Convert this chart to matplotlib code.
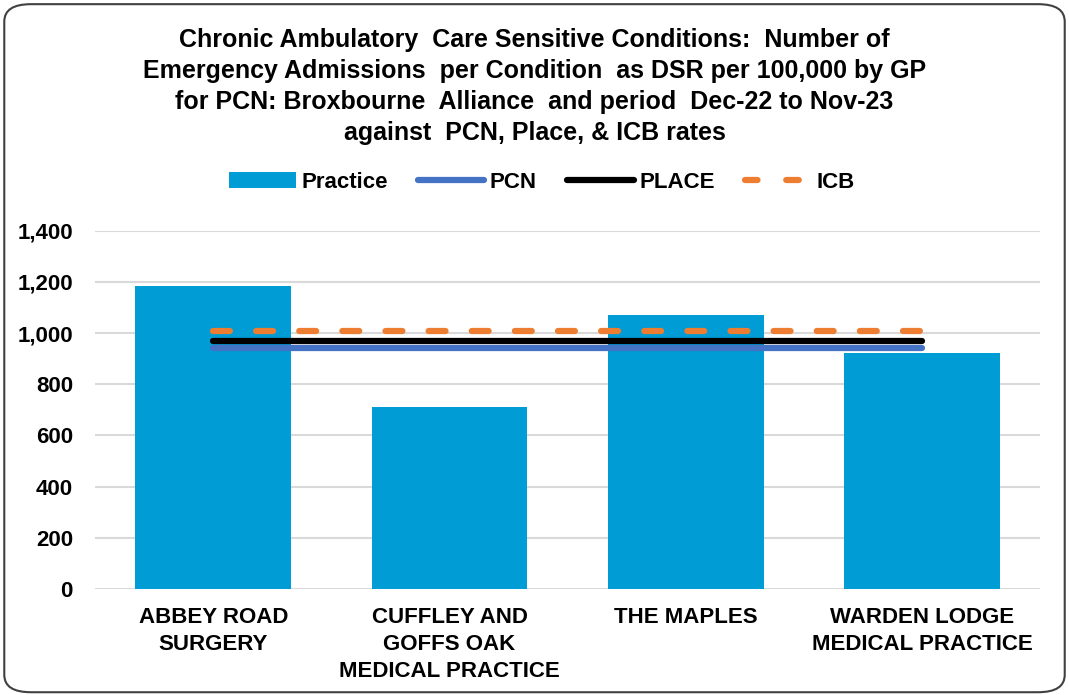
import numpy as np
import matplotlib.pyplot as plt
from matplotlib.patches import FancyBboxPatch
from matplotlib.lines import Line2D
from matplotlib.ticker import FuncFormatter

# datos
practicas = ['ABBEY ROAD\nSURGERY', 'CUFFLEY AND\nGOFFS OAK\nMEDICAL PRACTICE',
             'THE MAPLES', 'WARDEN LODGE\nMEDICAL PRACTICE']
practice = [1183, 712, 1070, 924]
pcn = [941, 941, 941, 941]
place = [969, 969, 969, 969]
icb = [1010, 1010, 1010, 1010]

plt.rcParams['font.family'] = ['Liberation Sans', 'DejaVu Sans']
plt.rcParams['font.weight'] = 'bold'

fig = plt.figure(figsize=(10.69, 6.95), dpi=100)
ax = fig.add_axes([0.089, 0.1525, 0.884, 0.5155])

x = np.arange(len(practicas))
b = ax.bar(x, practice, width=0.66, color='#009CD6', label='Practice', zorder=2)
l1, = ax.plot(x, pcn, color='#4472C4', lw=4.5, solid_capstyle='round', label='PCN', zorder=3)
l2, = ax.plot(x, place, color='black', lw=4.5, solid_capstyle='round', label='PLACE', zorder=3)
l3, = ax.plot(x, icb, color='#ED7D31', lw=4.5, dashes=(2.7, 4.2), dash_capstyle='round',
              label='ICB', zorder=4)
# muestra de leyenda para ICB con dos trazos
l3_ley = Line2D([], [], color='#ED7D31', lw=4.5, dashes=(2.0, 4.6), dash_capstyle='round')

ax.set_xlim(-0.5, 3.5)
ax.set_ylim(0, 1400)
ax.set_yticks(np.arange(0, 1401, 200))
ax.yaxis.set_major_formatter(FuncFormatter(lambda v, p: f'{int(v):,}'))
ax.set_xticks(x)
ax.set_xticklabels(practicas, fontsize=16, fontweight='bold', linespacing=1.36)
ax.tick_params(axis='y', labelsize=16, length=0, pad=16)
ax.tick_params(axis='x', length=0, pad=13)
ax.grid(axis='y', color='#D9D9D9', lw=1.5, zorder=0)
for s in ax.spines.values():
    s.set_visible(False)

fig.text(0.5, 0.876, 'Chronic Ambulatory  Care Sensitive Conditions:  Number of\n'
         'Emergency Admissions  per Condition  as DSR per 100,000 by GP\n'
         'for PCN: Broxbourne  Alliance  and period  Dec-22 to Nov-23\n'
         'against  PCN, Place, & ICB rates',
         ha='center', va='center', fontsize=18, fontweight='bold', linespacing=1.37)

fig.legend([b, l1, l2, l3_ley], ['Practice', 'PCN', 'PLACE', 'ICB'],
           loc='center', bbox_to_anchor=(0.507, 0.738), ncol=4, frameon=False,
           fontsize=16, handlelength=3.0, columnspacing=1.35, handletextpad=0.25)

borde = FancyBboxPatch((0.004, 0.004), 0.992, 0.99, boxstyle='round,pad=0,rounding_size=0.025',
                       transform=fig.transFigure, fill=False, edgecolor='#404040', lw=1.5)
fig.patches.append(borde)

fig.savefig('out.png', dpi=100)
